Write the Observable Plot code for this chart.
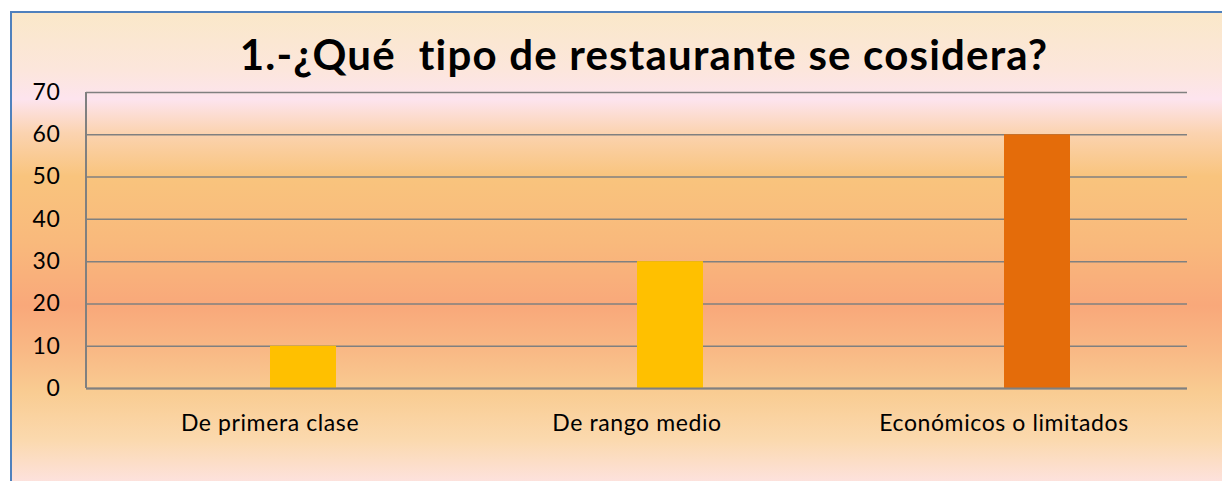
<!DOCTYPE html>
<html>
<head>
<meta charset="utf-8">
<script src="https://cdn.jsdelivr.net/npm/d3@7"></script>
<script src="https://cdn.jsdelivr.net/npm/@observablehq/plot@0.6"></script>
<style>
  html, body { margin: 0; padding: 0; background: #fff; }
  #page { position: relative; width: 1222px; height: 481px; overflow: hidden; background: #fff; }
  #panel {
    position: absolute; left: 10px; top: 11px; width: 1300px; height: 480px;
    border-left: 2px solid #4F81BD; border-top: 2px solid #4F81BD;
    background: linear-gradient(to bottom,
      #FAE8C9 0%, #FCE6DC 12%, #FDE4EE 18%, #FBD3B0 25%, #F9C47D 34%,
      #F9B97C 48%, #F9A87A 61%, #F9BA86 71%, #F9CC92 79%, #FBD9AE 89%, #FDE2DF 98%);
  }
  #title {
    position: absolute; left: 0; top: 31px; width: 1288px; text-align: center;
    font-family: Lato, "Open Sans", sans-serif; font-weight: 700; font-size: 42px;
    letter-spacing: 1.2px; line-height: 46px; white-space: pre; color: #000;
  }
  #chart { position: absolute; left: 0; top: 80px; }
  #chart svg text { letter-spacing: 0.6px; }
</style>
</head>
<body>
<div id="page">
  <div id="panel"></div>
  <div id="title">1.-¿Qué  tipo de restaurante se cosidera?</div>
  <div id="chart"></div>
</div>
<script>
const categories = ["De primera clase", "De rango medio", "Económicos o limitados"];
const series = ["Serie 1", "Serie 2"];          // first series is empty in the original
const values = [10, 30, 60];                    // values of Serie 2
const barColors = ["#FFC000", "#FFC000", "#E46C0A"];
const yTicks = [0, 10, 20, 30, 40, 50, 60, 70];

const table = categories.map((c, i) => ({
  category: c, series: series[1], value: values[i], color: barColors[i]
}));

const chart = Plot.plot({
  width: 1222,
  height: 401,
  marginLeft: 86,
  marginRight: 35,
  marginTop: 12,
  marginBottom: 93,
  style: { background: "transparent", fontFamily: "Lato, 'Open Sans', sans-serif", color: "#000", overflow: "visible" },
  fx: { domain: categories, padding: 0, label: null, axis: null },
  x: { domain: series, axis: null, paddingInner: 0, paddingOuter: 1.78 },
  y: { domain: [0, 70], label: null },
  color: { type: "identity" },
  marks: [
    Plot.gridY(yTicks, { stroke: "#808080", strokeOpacity: 1, strokeWidth: 1.5 }),
    Plot.barY(table, { fx: "category", x: "series", y: "value", fill: "color" }),
    Plot.ruleY([0], { stroke: "#808080", strokeWidth: 2 }),
    Plot.axisY(yTicks, { tickSize: 0, tickPadding: 26, fontSize: 23, fill: "#000" }),
    Plot.axisFx({ anchor: "bottom", tickSize: 0, tickPadding: 26, fontSize: 23, fill: "#000", label: null })
  ]
});

// left axis line (value axis spine)
const fxs = chart.scale("fx"), ys = chart.scale("y");
const x0 = fxs.apply(categories[0]);
d3.select(chart).append("line")
  .attr("x1", x0).attr("x2", x0)
  .attr("y1", ys.apply(yTicks[yTicks.length - 1])).attr("y2", ys.apply(0))
  .attr("stroke", "#808080").attr("stroke-width", 2);

document.getElementById("chart").appendChild(chart);
</script>
</body>
</html>
